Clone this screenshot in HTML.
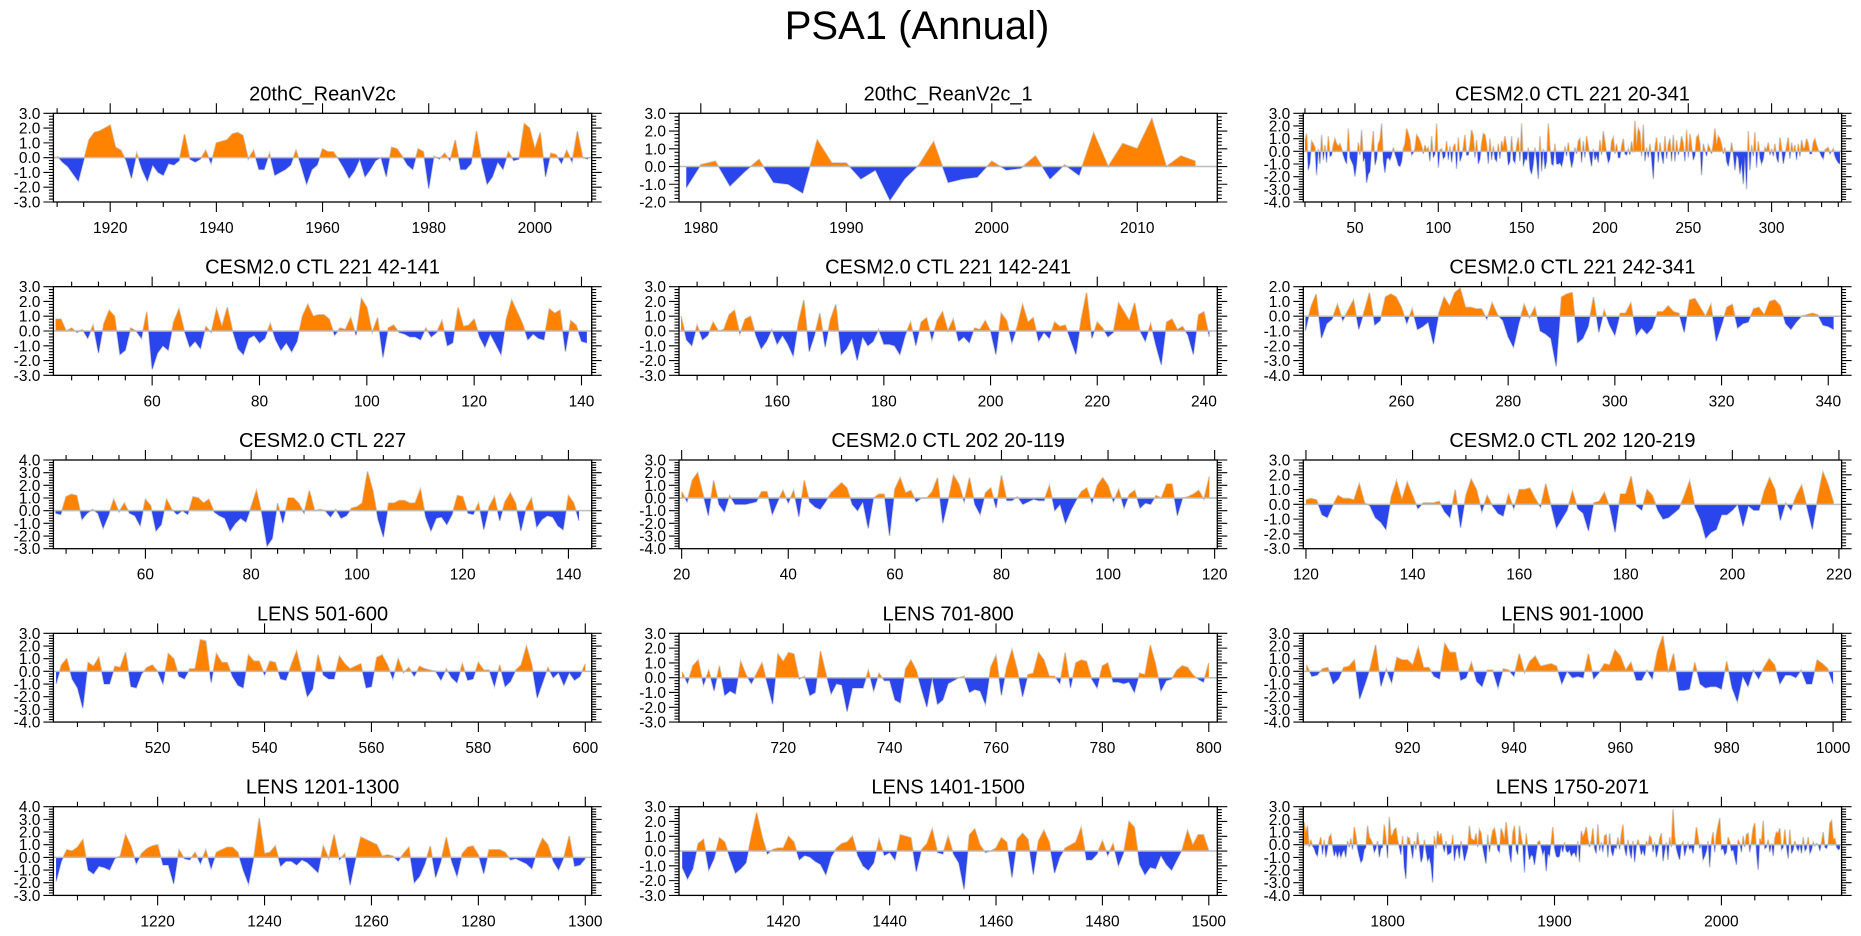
<!DOCTYPE html>
<html><head><meta charset="utf-8">
<style>
html,body{margin:0;padding:0;background:#fff;}
svg{display:block;font-family:"Liberation Sans",Arial,sans-serif;}
</style></head>
<body>
<svg id="chart" width="1861" height="936" viewBox="0 0 1861 936" xmlns="http://www.w3.org/2000/svg">
<text x="917" y="39" font-size="40" text-anchor="middle" fill="#000">PSA1 (Annual)</text>
</svg>
<script>
const p1Start = 1910;
const p1Values = [0.1,-0.3,-0.6,-1.1,-1.6,-0.2,1.2,1.7,1.8,2.0,2.2,0.7,0.5,-0.2,-1.4,0.3,-0.8,-1.6,-0.5,-1.0,-1.2,-0.4,-0.5,-0.2,1.6,-0.1,-0.3,-0.1,0.5,-0.4,1.0,1.1,1.2,1.6,1.7,1.5,-0.1,0.5,-0.8,-0.8,0.3,-1.2,-1.0,-0.8,-0.5,0.5,-0.6,-1.8,-0.8,-0.5,0.6,0.4,0.4,-0.1,-0.7,-1.4,-0.9,-0.1,-1.3,-0.8,-0.2,0.0,-1.3,0.7,0.6,0.1,-0.5,-0.8,0.6,0.4,-2.1,0.1,-0.1,0.3,-0.2,1.2,-0.8,-0.8,-0.4,1.8,-0.3,-1.8,-1.3,-0.3,-0.8,0.4,-0.2,-0.1,2.3,2.0,0.6,1.7,-1.3,0.3,0.2,-0.4,0.5,-0.3,1.8,0.0,-0.1];
const p2Start = 1979;
const p2Values = [-1.2,0.1,0.3,-1.1,-0.3,0.4,-0.9,-1.0,-1.5,1.5,0.2,0.2,-0.7,-0.2,-1.9,-0.7,0.1,1.4,-0.9,-0.7,-0.6,0.3,-0.2,-0.1,0.6,-0.7,0.1,-0.5,1.9,0.0,1.3,1.0,2.7,0.0,0.6,0.3];
const p3Start = 20;
const p3Values = [0.8,1.4,-1.5,-0.9,0.8,0.6,0.3,-1.9,0.2,-1.0, 1.3,-0.7,0.5,-0.9,1.2,-0.4,-0.3,0.5,1.0,0.6, 0.4,0.6,0.2,-0.3,-0.7,-1.0,1.8,-0.5,-0.8,-1.1, -2.0,-1.0,0.7,-0.3,1.7,-0.8,-0.5,-2.5,-1.8,-1.6, 0.2,1.6,-1.1,-0.6,0.6,0.9,2.2,-0.8,-1.7,-0.6, -0.5,-0.7,-0.3,0.3,-0.2,-0.6,-1.1,-1.2,-0.8,0.2, 0.6,1.8,1.4,0.9,-0.3,-0.1,0.2,1.3,1.1,0.8, 0.4,-0.2,0.5,0.1,0.3,-0.8,1.2,-0.5,-0.2,2.2, -1.3,0.1,0.2,-0.6,-0.4,0.8,-0.7,0.4,-0.9,0.3, 0.6,-1.4,1.1,-0.8,-0.4,0.3,1.3,-0.3,-0.3,0.5, 1.7,1.2,-0.5,0.9,-1.0,-0.6,0.6,1.4,1.3,0.5, -1.0,1.0,-0.7,0.4,-0.6,-0.8,0.6,-0.6,0.8,0.3, 1.2,0.4,-1.1,-0.8,1.2,-0.7,-0.9,0.4,1.1,-0.8, 2.2,-1.2,-0.6,-0.7,0.3,-1.4,-1.8,-1.0,0.3,-0.7, -2.2,1.2,-1.6,0.2,-1.4,-0.8,2.2,0.3,-1.0,-1.1, 0.6,-1.0,-1.0,-0.9,-1.2,-0.6,0.4,-0.4,0.7,-0.5, -1.3,-0.7,0.3,-0.2,0.8,1.0,-0.9,0.8,-0.5,1.2, 0.4,-0.5,-1.2,0.2,-0.7,-0.3,-0.9,0.9,-0.3,1.6, 0.7,-0.2,-0.9,-0.6,0.8,1.1,-0.2,0.6,-0.5,-0.5, 0.4,1.0,-0.2,-0.3,0.2,-0.3,0.8,-0.1,2.4,0.4, 1.8,1.5,-0.4,2.1,-0.8,0.3,-0.5,0.6,-0.6,-2.2, 0.3,1.1,-0.9,0.7,-0.3,-1.0,1.2,-0.6,0.5,1.0, -0.8,1.3,-0.8,0.9,-0.3,0.3,1.2,0.6,-0.8,1.7, -0.5,1.4,0.4,-0.7,-0.3,1.1,1.3,0.6,-1.9,0.6, 0.1,-0.4,0.5,0.2,-0.2,0.6,1.8,0.5,1.2,1.0, 0.5,-0.2,0.3,-0.8,-1.2,-0.4,0.7,-0.2,-1.5,-0.3, -0.5,-1.8,-0.9,-2.6,-0.4,-3.0,1.6,-1.5,0.5,-0.4, 1.5,-1.3,0.8,-0.5,-1.0,-0.6,0.3,0.1,0.7,-0.3, 0.2,-0.4,0.6,-0.5,-0.9,1.1,0.2,-1.0,-0.3,0.4, 1.1,-0.6,0.7,-0.1,0.5,-0.7,0.6,-0.4,0.9,0.2, 0.3,1.0,0.6,-0.2,-0.2,0.7,1.0,0.5,0.1,-0.1, -0.4,-0.6,0.1,0.2,0.3,-0.2,0.0,0.2,-0.4,-0.7, -0.9,-1.0];
const p4Start = 42;
const p4Values = [0.8,0.8,0.0,0.2,-0.1,0.1,-0.5,0.4,-1.5,0.5,1.4,1.0,-1.6,-1.3,0.2,0.0,-0.5,1.3,-2.6,-1.5,-1.0,-1.3,0.6,1.5,0.0,-1.1,-0.7,-1.2,0.3,-0.1,1.5,0.3,1.6,0.0,-1.2,-1.6,-0.5,-0.3,-0.8,-0.5,0.5,-0.6,-1.3,-0.8,-1.4,-0.7,1.0,1.8,1.0,1.1,1.1,0.8,-0.3,0.2,0.1,0.9,-0.3,2.2,1.6,-0.1,0.9,-1.8,0.2,0.4,-0.1,-0.2,-0.4,-0.4,-0.6,0.2,-0.4,-0.1,0.7,-1.0,-0.8,1.6,0.3,0.4,0.8,-0.4,-1.1,-0.2,-0.9,-1.6,0.8,2.1,1.3,0.5,-0.6,-0.2,-0.5,-0.6,1.5,1.2,1.4,-1.4,0.7,0.4,-0.7,-0.8];
const p5Start = 142;
const p5Values = [1.0,-0.6,-1.0,0.4,-0.6,-0.3,0.6,0.0,0.1,1.1,1.4,-0.2,0.8,1.0,-0.3,-1.2,-0.7,0.1,-0.9,-0.3,-0.9,-1.7,0.6,2.1,-1.4,-0.3,1.2,-1.1,0.8,1.8,-1.6,-1.2,-0.5,-2.0,-0.4,-1.0,-0.7,0.1,-0.9,-0.9,-1.0,-1.6,-0.3,0.6,-1.0,0.6,0.9,-0.6,0.7,1.3,0.0,0.8,-0.7,-0.4,-0.8,0.2,0.1,0.7,0.0,-1.6,1.2,0.7,-0.8,0.3,1.8,0.6,0.9,-0.7,-0.1,-0.5,0.6,0.3,0.4,-0.6,-1.6,0.8,2.6,-0.5,0.6,0.2,-0.4,-0.1,1.9,1.3,0.7,1.9,0.0,-0.7,0.5,-1.0,-2.3,0.6,0.8,0.1,0.3,-0.3,-1.6,1.1,1.3,-0.4];
const p6Start = 242;
const p6Values = [-1.0,0.6,1.5,-1.5,-0.5,-0.2,0.8,-0.3,0.4,1.1,-0.9,0.3,1.6,-0.6,-0.3,1.3,1.5,1.3,0.6,-0.5,0.5,-0.9,-0.7,-0.4,-1.9,0.2,1.3,0.7,1.6,1.9,0.6,0.6,0.5,0.5,-0.2,0.9,0.1,-0.3,-1.4,-2.1,-0.5,0.8,-0.1,0.6,-1.0,-1.2,-1.5,-3.4,1.3,1.5,1.6,-1.8,-1.5,-0.7,1.3,-1.1,0.4,-0.6,-1.3,0.2,0.2,0.9,-1.3,-0.8,-1.2,-0.8,0.3,0.3,0.7,0.3,0.2,-1.1,1.1,1.2,0.6,0.0,0.8,-1.7,-0.6,0.6,0.8,-0.8,-0.5,-0.4,0.5,0.6,0.1,1.0,1.1,0.7,-0.5,-0.9,-0.4,0.0,0.1,0.2,0.1,-0.6,-0.7,-0.9];
const p7Start = 43;
const p7Values = [-0.2,-0.3,1.1,1.3,1.2,-0.7,-0.2,0.1,-0.2,-1.4,-0.4,0.9,-0.1,0.6,-0.2,-0.4,-1.2,0.9,0.4,-1.6,-1.1,0.9,0.1,-0.3,0.0,-0.3,1.1,1.0,0.6,0.9,-0.1,-0.4,-0.6,-1.6,-1.0,-0.6,-0.9,0.3,1.6,-0.2,-2.8,-2.2,0.6,-1.0,1.0,1.0,0.6,-0.2,1.6,0.0,0.1,0.0,-0.5,0.1,-0.6,-0.4,0.2,0.3,0.6,3.1,1.6,-0.7,-2.1,0.6,0.6,0.8,0.8,0.6,0.6,1.7,-0.5,-1.6,-0.6,-0.5,-1.1,-0.3,1.2,1.1,-0.2,-0.3,0.6,-1.5,0.3,1.1,-0.8,0.7,1.4,0.6,-1.6,0.2,1.0,-1.3,-0.7,-0.4,-0.5,-1.2,-1.5,1.2,0.6,-0.8];
const p8Start = 20;
const p8Values = [0.5,-0.3,1.4,2.0,0.3,-1.4,1.4,-0.5,-1.1,0.2,-0.5,-0.5,-0.5,-0.4,-0.3,0.5,0.5,-1.3,-0.3,0.6,-0.4,0.6,-1.5,1.4,-0.3,-0.7,-0.9,-0.3,0.4,0.8,1.2,0.8,-0.5,-1.0,-0.3,-2.4,0.0,0.3,0.3,-3.0,0.7,1.6,0.4,0.6,-0.3,0.0,0.0,0.5,1.6,-2.0,-0.2,1.8,1.1,-0.3,1.6,-0.5,-1.3,0.4,0.8,-0.8,1.8,-0.2,-0.2,0.1,-0.5,-0.3,-0.1,-0.2,-0.2,1.0,-1.0,-0.5,-2.0,-1.0,-0.2,0.5,0.8,-0.4,1.0,1.6,1.0,-0.3,0.7,-0.8,0.3,0.6,-0.8,-0.4,-0.5,0.2,0.0,1.1,1.1,-1.4,0.0,0.1,0.3,0.6,-0.1,1.7];
const p9Start = 120;
const p9Values = [0.3,0.4,0.3,-0.7,-0.9,-0.1,0.6,0.4,0.4,0.3,1.4,0.1,-0.1,-0.9,-1.2,-1.7,0.5,1.6,0.3,1.5,0.6,-0.3,0.1,0.1,0.1,0.2,-0.5,-0.9,1.0,-1.6,0.6,1.7,1.0,-0.5,0.6,-0.1,-0.6,-0.8,0.7,-0.3,1.0,1.0,1.1,0.4,-0.2,1.4,-0.1,-1.6,-1.0,-0.4,0.9,-0.3,-0.6,-1.8,0.1,0.2,0.8,-0.2,-1.9,0.7,0.7,1.9,-0.1,-0.4,1.0,0.6,-0.4,-1.0,-0.9,-0.6,-0.3,0.6,1.6,-0.2,-1.0,-2.3,-1.9,-1.7,-0.7,-0.7,-0.4,0.0,-1.5,-0.1,-0.4,-0.4,0.9,1.8,1.0,-1.1,0.1,-0.4,0.6,1.3,-0.2,-1.7,0.4,2.2,1.3,0.1];
const p10Start = 501;
const p10Values = [-1.0,0.5,1.0,-0.6,-1.3,-2.9,0.7,0.4,1.1,-1.0,-1.0,0.4,0.3,1.5,-1.2,-1.3,-0.2,0.3,0.5,0.0,-1.0,1.4,1.0,-0.4,-0.6,0.2,0.2,2.5,2.4,-0.9,1.4,0.7,0.7,-0.4,-1.1,-1.3,1.3,0.8,0.8,-0.3,0.8,0.7,-0.6,-0.7,0.5,1.6,-0.2,-2.0,-1.4,1.3,-0.3,-0.6,-0.6,1.2,0.6,0.2,0.4,0.6,-1.3,-1.2,1.1,1.3,0.5,-0.6,1.0,-0.1,0.3,-0.4,0.4,0.2,0.1,0.0,-0.7,0.2,-0.5,-0.9,0.6,-0.7,-0.6,0.7,0.1,0.1,-1.2,0.5,-1.2,-0.8,0.1,0.5,2.0,0.5,-2.1,-0.9,0.3,-0.5,-0.1,-1.1,-0.1,-0.7,-0.4,0.6];
const p11Start = 701;
const p11Values = [0.4,-0.4,0.8,1.2,-0.5,0.5,-0.9,0.8,-1.2,-0.9,-1.1,1.1,0.2,-0.4,0.3,1.0,-0.4,-1.8,1.6,1.1,1.7,1.6,-0.1,0.1,-1.2,-1.0,1.8,0.3,-1.1,-0.4,-0.5,-2.3,-0.7,-0.7,-0.7,0.5,-0.9,0.3,-0.2,-0.2,-1.5,-1.7,0.6,1.2,0.5,-0.8,-2.0,0.0,-1.8,-1.5,-0.4,-0.2,0.0,0.1,-1.0,-0.8,-0.9,-1.8,0.7,1.5,-1.2,0.7,1.9,0.5,-1.3,0.2,0.3,1.7,1.2,0.1,0.1,-0.4,1.7,-0.7,1.0,1.2,1.1,-0.1,-0.7,0.8,1.0,-0.3,-0.3,-0.4,-0.3,-1.0,0.3,0.2,2.2,0.9,-0.9,-0.2,-0.1,0.5,0.8,0.7,0.2,-0.1,-0.3,1.0];
const p12Start = 901;
const p12Values = [0.5,-0.4,-0.3,0.2,0.3,-1.0,-0.6,0.3,0.4,0.9,-2.2,-1.0,0.3,2.1,-1.2,0.2,-0.9,1.1,0.9,0.9,0.5,1.9,0.3,0.3,-0.4,-0.6,2.2,1.5,1.5,-0.7,-0.5,0.7,-0.8,-1.2,0.1,0.1,-1.3,0.2,0.1,-0.4,1.4,-0.1,0.8,1.2,0.4,0.5,0.6,0.4,-1.0,0.0,-0.5,-0.4,-0.5,1.4,-0.6,-0.1,0.6,0.5,1.7,1.2,0.1,0.7,-0.7,-0.7,0.1,-0.6,1.6,2.8,-0.1,1.4,-1.5,-1.5,-1.4,0.7,-1.0,-1.3,-1.2,-1.2,-1.4,0.8,-1.3,-2.4,-0.4,-1.2,0.1,-0.6,0.3,1.0,0.5,-1.0,-0.3,-0.3,-0.5,0.1,-1.0,-1.0,0.9,0.6,0.2,-1.0];
const p13Start = 1201;
const p13Values = [-1.9,-0.3,0.6,0.5,0.8,1.4,-1.0,-1.3,-0.7,-0.8,-1.0,-0.1,0.1,1.8,0.9,-0.5,0.3,0.7,0.9,1.0,-0.6,-0.6,-2.1,0.6,-0.1,-0.2,0.4,-0.5,0.6,-0.9,0.4,0.6,0.8,0.8,0.4,-1.0,-2.1,0.0,3.1,0.3,0.4,0.9,-0.7,-0.3,-0.3,-0.6,-0.2,-0.4,-0.8,-1.2,0.9,-0.1,1.8,-0.2,0.3,-2.2,-0.2,1.6,1.4,1.2,1.0,0.1,0.2,0.1,-0.3,0.3,0.8,-2.0,-1.5,-0.5,0.9,-1.6,-0.3,1.6,-0.3,-1.5,0.3,0.8,0.9,0.2,-1.3,0.6,0.6,0.6,0.4,-0.2,-0.1,-0.3,-0.5,-0.9,0.5,1.5,1.0,-0.3,-1.0,0.0,1.7,-0.7,-0.6,-0.1];
const p14Start = 1401;
const p14Values = [-1.1,-1.9,-1.2,0.5,0.8,-1.3,-0.5,0.9,0.6,-0.5,-1.5,-1.2,-0.8,1.0,2.6,1.0,-0.2,0.1,0.2,0.2,1.0,0.6,-0.6,-0.3,-0.4,-0.7,-0.9,-1.6,-0.4,0.2,0.5,0.6,1.0,-0.3,-1.0,-1.3,-0.8,0.8,-0.3,-0.1,-0.6,1.1,1.0,0.9,-1.4,0.1,0.5,1.5,-0.1,-0.2,1.0,-0.2,-0.8,-2.6,1.1,1.5,0.4,-0.1,0.0,0.2,0.9,0.6,-1.8,0.8,1.2,0.8,-1.6,0.7,1.4,0.6,-1.5,-0.4,0.2,0.4,0.6,1.6,-0.6,-0.6,-0.2,0.7,-0.3,0.5,-1.0,-0.1,2.0,1.6,-0.9,-1.6,-1.1,-1.2,-0.3,-0.9,-1.3,-0.6,0.1,1.4,0.4,1.1,1.1,0.0];
const p15Start = 1750;
const p15Values = [1.8,0.9,1.5,-0.2,0.4,-0.1,-0.3,-0.7,-0.9,0.1, 0.6,-0.8,0.4,-1.0,-0.3,0.6,0.8,-0.1,-0.9,-0.5, -1.0,-0.5,-1.0,-0.6,-0.4,-1.0,0.3,-0.2,0.5,-0.4, 1.4,0.7,-0.3,-0.9,-1.4,-1.2,-0.4,-0.2,1.5,0.6, 0.4,0.1,-0.6,-0.3,0.3,-1.0,-0.3,-0.2,1.6,0.5, -1.1,2.2,0.7,0.8,1.2,1.3,0.4,-0.2,-0.8,0.7, -1.8,-2.7,0.6,0.5,-0.2,-1.1,0.3,-0.4,1.0,-0.2, -1.4,-1.0,0.4,-0.5,-1.3,-1.0,-1.6,-3.0,0.7,-0.3, 1.1,0.5,0.9,0.0,-0.6,0.3,-0.8,-0.7,-0.6,0.8, -1.3,-0.4,-0.2,-1.1,0.3,-0.4,-1.3,-0.8,-0.3,1.5, 0.5,0.4,0.3,0.9,-0.2,1.2,0.9,-0.2,-0.9,-1.5, 0.8,-0.6,0.4,1.1,1.3,0.6,-0.4,-0.6,1.3,0.9, 0.4,1.8,0.6,-0.7,-1.4,0.9,1.5,-0.4,-0.8,1.5, 0.6,-0.1,-2.2,0.9,-0.3,-1.2,-0.8,-0.9,-1.6,-0.7, 0.2,0.3,-0.2,-0.8,-0.4,-2.1,-0.7,-0.9,0.2,1.4, -0.3,-0.9,-1.0,-0.9,-0.1,-0.6,0.2,-0.5,-0.6,-0.4, -0.9,-0.7,-0.6,-1.0,0.3,-1.4,1.1,0.6,0.9,1.4, 0.5,-0.2,0.3,1.3,-0.3,-0.7,1.6,-0.5,0.2,-0.6, 0.7,0.8,-1.0,0.9,-0.5,-0.9,-0.2,-0.3,0.6,-0.4, 0.8,1.6,-0.3,-0.9,0.4,-0.5,-1.1,0.3,-1.4,-0.2, 0.4,-0.1,-0.8,-0.4,-0.9,0.3,-0.1,0.7,0.5,-0.6, 0.2,-1.0,-0.4,0.5,0.9,-1.3,-0.5,0.2,-1.2,0.6, -0.2,2.8,0.6,-0.3,-0.8,-1.2,0.0,0.2,-0.9,-0.3, 0.1,-0.4,-0.2,-0.7,0.2,1.4,0.6,-0.3,0.1,-1.2, -0.9,-0.5,0.3,-1.8,0.2,1.0,-0.6,0.8,1.5,2.1, -0.4,-0.3,-0.8,-0.6,0.6,0.2,-0.5,-0.4,-1.0,-1.6, 0.4,0.1,-0.6,0.7,-0.2,0.8,0.9,-0.6,0.3,1.3, 1.7,-0.6,-2.0,0.5,0.2,1.9,-0.3,-0.2,0.4,-0.6, 0.1,-0.9,0.5,1.0,0.9,1.3,-0.4,-0.2,1.2,-0.2, -1.1,1.2,-0.7,-0.4,0.3,-0.2,-0.5,0.0,-0.7,0.6, -0.5,-0.3,0.6,-0.7,-0.4,0.2,-0.1,0.1,0.0,-0.5, 0.2,1.0,-0.2,-0.3,0.1,1.7,1.9,0.4,0.5,-0.2, -0.4,-0.3];

const panelTitles = ["20thC_ReanV2c","20thC_ReanV2c_1","CESM2.0 CTL 221 20-341","CESM2.0 CTL 221 42-141","CESM2.0 CTL 221 142-241","CESM2.0 CTL 221 242-341","CESM2.0 CTL 227","CESM2.0 CTL 202 20-119","CESM2.0 CTL 202 120-219","LENS 501-600","LENS 701-800","LENS 901-1000","LENS 1201-1300","LENS 1401-1500","LENS 1750-2071"];
const panelStarts = [p1Start,p2Start,p3Start,p4Start,p5Start,p6Start,p7Start,p8Start,p9Start,p10Start,p11Start,p12Start,p13Start,p14Start,p15Start];
const panelSeries = [p1Values,p2Values,p3Values,p4Values,p5Values,p6Values,p7Values,p8Values,p9Values,p10Values,p11Values,p12Values,p13Values,p14Values,p15Values];
const xDomains = [[1909.3,2010.7],[1978.5,2015.5],[19,342],[41.6,141.9],[141.6,242.5],[241.6,342.5],[42.6,144.4],[19.5,120.5],[119.5,220.5],[500.5,601.2],[700.4,801.6],[900.4,1001.6],[1200.5,1301.2],[1400.4,1501.6],[1749.5,2072]];
const yDomains = [[-3,3],[-2,3],[-4,3],[-3,3],[-3,3],[-4,2],[-3,4],[-4,3],[-3,3],[-4,3],[-3,3],[-4,3],[-3,4],[-3,3],[-4,3]];
const xMajorSteps = [20,10,50,20,20,20,20,20,20,20,20,20,20,20,100];
const xMinorSteps = [5,2,10,5,5,5,5,5,5,5,5,5,5,5,20];

const NS = "http://www.w3.org/2000/svg";
const svg = document.getElementById('chart');
const colLeft = [53.4, 679, 1303.3];
const plotW = 538.3, plotH = 88.7, rowTop0 = 113.3, rowStep = 173.35;

function mk(tag, attrs, parent){
  const e = document.createElementNS(NS, tag);
  for (const k in attrs) e.setAttribute(k, attrs[k]);
  parent.appendChild(e);
  return e;
}

panelTitles.forEach((title, i) => {
  const col = i % 3, row = Math.floor(i / 3);
  const L = colLeft[col], T = rowTop0 + row * rowStep, R = L + plotW, B = T + plotH;
  const [x0, x1] = xDomains[i], [y0, y1] = yDomains[i];
  const sx = v => L + (v - x0) / (x1 - x0) * plotW;
  const sy = v => B - (v - y0) / (y1 - y0) * plotH;
  const g = mk('g', {}, svg);
  
  

  const t = mk('text', {x: (L + R) / 2, y: T - 13, 'font-size': 20, 'text-anchor': 'middle', fill: '#000'}, g);
  t.textContent = title;
  
  

  const start = panelStarts[i], vals = panelSeries[i];
  const pts = [];
  for (let k = 0; k < vals.length; k++) {
    const xv = start + k, v = vals[k];
    if (k > 0) {
      const pv = vals[k - 1];
      if ((pv > 0 && v < 0) || (pv < 0 && v > 0)) {
        const f = pv / (pv - v);
        pts.push([xv - 1 + f, 0]);
      }
    }
    pts.push([xv, v]);
  }
  const first = pts[0][0], last = pts[pts.length - 1][0];
  const line = mk('polyline', {points: pts.map(p => sx(p[0]).toFixed(2) + ',' + sy(p[1]).toFixed(2)).join(' '), fill: 'none', stroke: '#d0d0d0', 'stroke-width': 1.6}, g);
  
  
  const mkFill = (sign, color, name) => {
    let d = 'M' + sx(first).toFixed(2) + ',' + sy(0).toFixed(2);
    pts.forEach(p => {
      const v = sign > 0 ? Math.max(p[1], 0) : Math.min(p[1], 0);
      d += 'L' + sx(p[0]).toFixed(2) + ',' + sy(v).toFixed(2);
    });
    d += 'L' + sx(last).toFixed(2) + ',' + sy(0).toFixed(2) + 'Z';
    const pth = mk('path', {d: d, fill: color}, g);
    
    
  };
  mkFill(1, '#ff8300', 'positive-fill');
  mkFill(-1, '#2a45eb', 'negative-fill');
  const zl = mk('line', {x1: L, x2: R, y1: sy(0), y2: sy(0), stroke: '#bcbcbc', 'stroke-width': 1.5}, g);
  
  

  const fr = mk('rect', {x: L, y: T, width: plotW, height: plotH, fill: 'none', stroke: '#000', 'stroke-width': 1.3}, g);
  
  

  let tk = '';
  const xm = xMinorSteps[i], xM = xMajorSteps[i];
  for (let v = Math.ceil(x0 / xm) * xm; v <= x1; v += xm) {
    const X = sx(v), len = (v % xM === 0) ? 10 : 5;
    tk += 'M' + X.toFixed(2) + ',' + T + 'v' + (-len) + 'M' + X.toFixed(2) + ',' + B + 'v' + len;
  }
  for (let s = Math.round(y0 * 5); s <= Math.round(y1 * 5); s++) {
    const Y = sy(s / 5), len = (s % 5 === 0) ? 10 : 4.5;
    tk += 'M' + L + ',' + Y.toFixed(2) + 'h' + (-len) + 'M' + R + ',' + Y.toFixed(2) + 'h' + len;
  }
  const tp = mk('path', {d: tk, stroke: '#000', 'stroke-width': 1.1, fill: 'none'}, g);
  
  

  for (let v = Math.ceil(x0 / xM) * xM; v <= x1; v += xM) {
    const lb = mk('text', {x: sx(v), y: B + 31, 'font-size': 15.5, 'text-anchor': 'middle', fill: '#000'}, g);
    lb.textContent = String(v);
    
    
  }
  for (let v = y0; v <= y1; v++) {
    const lb = mk('text', {x: L - 13, y: sy(v) + 5.5, 'font-size': 15.5, 'text-anchor': 'end', fill: '#000'}, g);
    lb.textContent = v.toFixed(1);
    
    
  }
});
</script>
</body></html>
